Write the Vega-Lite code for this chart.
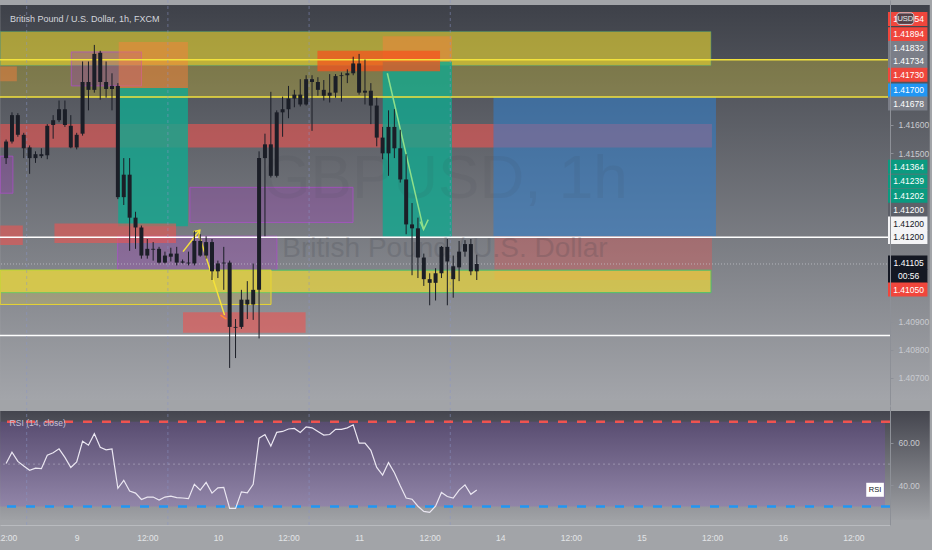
{
"$schema":"https://vega.github.io/schema/vega-lite/v6.json",
"width":890,"height":525,
"autosize":{"type":"none"},
"padding":{"left":0,"top":0,"right":42,"bottom":25},
"background":"#a2a4a8",
"config":{"view":{"stroke":null},"font":"Liberation Sans, sans-serif"},
"datasets":{
"candles":[
{"h":-12,"o":1.41482,"hi":1.41548,"lo":1.41461,"c":1.41541},
{"h":-11,"o":1.41541,"hi":1.41645,"lo":1.41534,"c":1.41635},
{"h":-10,"o":1.41635,"hi":1.41642,"lo":1.41558,"c":1.41565},
{"h":-9,"o":1.41565,"hi":1.41572,"lo":1.41482,"c":1.41517},
{"h":-8,"o":1.41520,"hi":1.41527,"lo":1.41426,"c":1.41482},
{"h":-7,"o":1.41482,"hi":1.41506,"lo":1.41465,"c":1.41496},
{"h":-6,"o":1.41496,"hi":1.41517,"lo":1.41482,"c":1.41489},
{"h":-5,"o":1.41492,"hi":1.41603,"lo":1.41478,"c":1.41597},
{"h":-4,"o":1.41600,"hi":1.41635,"lo":1.41551,"c":1.41617},
{"h":-3,"o":1.41617,"hi":1.41687,"lo":1.41610,"c":1.41656},
{"h":-2,"o":1.41656,"hi":1.41687,"lo":1.41593,"c":1.41600},
{"h":-1,"o":1.41597,"hi":1.41635,"lo":1.41517,"c":1.41520},
{"h":0,"o":1.41520,"hi":1.41572,"lo":1.41513,"c":1.41565},
{"h":1,"o":1.41569,"hi":1.41826,"lo":1.41562,"c":1.41753},
{"h":2,"o":1.41753,"hi":1.41826,"lo":1.41652,"c":1.41725},
{"h":3,"o":1.41725,"hi":1.41885,"lo":1.41715,"c":1.41853},
{"h":4,"o":1.41857,"hi":1.41864,"lo":1.41690,"c":1.41753},
{"h":5,"o":1.41753,"hi":1.41826,"lo":1.41697,"c":1.41728},
{"h":6,"o":1.41728,"hi":1.41784,"lo":1.41652,"c":1.41739},
{"h":7,"o":1.41739,"hi":1.41749,"lo":1.41336,"c":1.41343},
{"h":8,"o":1.41343,"hi":1.41482,"lo":1.41315,"c":1.41423},
{"h":9,"o":1.41423,"hi":1.41482,"lo":1.41152,"c":1.41270},
{"h":10,"o":1.41270,"hi":1.41291,"lo":1.41159,"c":1.41235},
{"h":11,"o":1.41235,"hi":1.41242,"lo":1.41124,"c":1.41135},
{"h":12,"o":1.41135,"hi":1.41194,"lo":1.41124,"c":1.41159},
{"h":13,"o":1.41159,"hi":1.41183,"lo":1.41117,"c":1.41156},
{"h":14,"o":1.41159,"hi":1.41166,"lo":1.41107,"c":1.41110},
{"h":15,"o":1.41110,"hi":1.41149,"lo":1.41107,"c":1.41135},
{"h":16,"o":1.41131,"hi":1.41163,"lo":1.41114,"c":1.41142},
{"h":17,"o":1.41142,"hi":1.41166,"lo":1.41100,"c":1.41110},
{"h":18,"o":1.41110,"hi":1.41121,"lo":1.41107,"c":1.41114},
{"h":19,"o":1.41110,"hi":1.41149,"lo":1.41100,"c":1.41107},
{"h":20,"o":1.41107,"hi":1.41222,"lo":1.41100,"c":1.41187},
{"h":21,"o":1.41187,"hi":1.41211,"lo":1.41131,"c":1.41135},
{"h":22,"o":1.41135,"hi":1.41204,"lo":1.41124,"c":1.41183},
{"h":23,"o":1.41183,"hi":1.41194,"lo":1.41048,"c":1.41079},
{"h":24,"o":1.41079,"hi":1.41117,"lo":1.41055,"c":1.41107},
{"h":25,"o":1.41107,"hi":1.41166,"lo":1.41013,"c":1.41110},
{"h":26,"o":1.41110,"hi":1.41117,"lo":1.40735,"c":1.40881},
{"h":27,"o":1.40881,"hi":1.40909,"lo":1.40770,"c":1.40878},
{"h":28,"o":1.40881,"hi":1.41013,"lo":1.40874,"c":1.40978},
{"h":29,"o":1.40978,"hi":1.41044,"lo":1.40909,"c":1.40961},
{"h":30,"o":1.40961,"hi":1.41107,"lo":1.40906,"c":1.41013},
{"h":31,"o":1.41013,"hi":1.41506,"lo":1.40840,"c":1.41482},
{"h":32,"o":1.41482,"hi":1.41569,"lo":1.41204,"c":1.41531},
{"h":33,"o":1.41531,"hi":1.41718,"lo":1.41413,"c":1.41419},
{"h":34,"o":1.41419,"hi":1.41652,"lo":1.41413,"c":1.41645},
{"h":35,"o":1.41645,"hi":1.41701,"lo":1.41558,"c":1.41656},
{"h":36,"o":1.41656,"hi":1.41739,"lo":1.41624,"c":1.41694},
{"h":37,"o":1.41694,"hi":1.41725,"lo":1.41663,"c":1.41708},
{"h":38,"o":1.41708,"hi":1.41763,"lo":1.41666,"c":1.41673},
{"h":39,"o":1.41673,"hi":1.41777,"lo":1.41669,"c":1.41763},
{"h":40,"o":1.41763,"hi":1.41777,"lo":1.41579,"c":1.41753},
{"h":41,"o":1.41753,"hi":1.41770,"lo":1.41704,"c":1.41725},
{"h":42,"o":1.41725,"hi":1.41760,"lo":1.41687,"c":1.41704},
{"h":43,"o":1.41704,"hi":1.41781,"lo":1.41680,"c":1.41715},
{"h":44,"o":1.41715,"hi":1.41781,"lo":1.41697,"c":1.41774},
{"h":45,"o":1.41774,"hi":1.41787,"lo":1.41683,"c":1.41777},
{"h":46,"o":1.41777,"hi":1.41798,"lo":1.41749,"c":1.41784},
{"h":47,"o":1.41784,"hi":1.41843,"lo":1.41777,"c":1.41819},
{"h":48,"o":1.41819,"hi":1.41853,"lo":1.41708,"c":1.41715},
{"h":49,"o":1.41715,"hi":1.41833,"lo":1.41673,"c":1.41722},
{"h":50,"o":1.41722,"hi":1.41749,"lo":1.41603,"c":1.41669},
{"h":51,"o":1.41669,"hi":1.41697,"lo":1.41524,"c":1.41555},
{"h":52,"o":1.41555,"hi":1.41593,"lo":1.41478,"c":1.41499},
{"h":53,"o":1.41499,"hi":1.41652,"lo":1.41419,"c":1.41593},
{"h":54,"o":1.41593,"hi":1.41656,"lo":1.41482,"c":1.41517},
{"h":55,"o":1.41517,"hi":1.41583,"lo":1.41395,"c":1.41406},
{"h":56,"o":1.41406,"hi":1.41496,"lo":1.41211,"c":1.41246},
{"h":57,"o":1.41246,"hi":1.41322,"lo":1.41065,"c":1.41232},
{"h":58,"o":1.41232,"hi":1.41270,"lo":1.41055,"c":1.41128},
{"h":59,"o":1.41128,"hi":1.41142,"lo":1.41027,"c":1.41051},
{"h":60,"o":1.41051,"hi":1.41072,"lo":1.40958,"c":1.41038},
{"h":61,"o":1.41038,"hi":1.41090,"lo":1.40975,"c":1.41072},
{"h":62,"o":1.41072,"hi":1.41169,"lo":1.41055,"c":1.41166},
{"h":63,"o":1.41166,"hi":1.41194,"lo":1.40958,"c":1.41114},
{"h":64,"o":1.41097,"hi":1.41135,"lo":1.40985,"c":1.41051},
{"h":65,"o":1.41093,"hi":1.41187,"lo":1.41044,"c":1.41149},
{"h":66,"o":1.41149,"hi":1.41190,"lo":1.41131,"c":1.41176},
{"h":67,"o":1.41176,"hi":1.41194,"lo":1.41065,"c":1.41079},
{"h":68,"o":1.41079,"hi":1.41138,"lo":1.41048,"c":1.41105}
],
"rsi":[
{"h":-12,"rsi":50.29},{"h":-11,"rsi":55.61},{"h":-10,"rsi":51.29},{"h":-9,"rsi":49.14},{"h":-8,"rsi":47.12},{"h":-7,"rsi":48.13},{"h":-6,"rsi":47.84},{"h":-5,"rsi":54.17},{"h":-4,"rsi":55.32},{"h":-3,"rsi":57.19},{"h":-2,"rsi":53.17},{"h":-1,"rsi":48.42},{"h":0,"rsi":51.01},
{"h":1,"rsi":60.79},{"h":2,"rsi":58.92},{"h":3,"rsi":64.39},{"h":4,"rsi":57.91},{"h":5,"rsi":56.76},{"h":6,"rsi":57.19},{"h":7,"rsi":38.63},{"h":8,"rsi":42.37},{"h":9,"rsi":37.34},{"h":10,"rsi":36.33},{"h":11,"rsi":33.31},{"h":12,"rsi":34.46},
{"h":13,"rsi":34.46},{"h":14,"rsi":33.02},{"h":15,"rsi":34.46},{"h":16,"rsi":34.89},{"h":17,"rsi":34.17},{"h":18,"rsi":34.03},{"h":19,"rsi":33.74},{"h":20,"rsi":40.50},{"h":21,"rsi":37.77},{"h":22,"rsi":41.37},{"h":23,"rsi":36.33},{"h":24,"rsi":38.78},
{"h":25,"rsi":39.06},{"h":26,"rsi":29.14},{"h":27,"rsi":29.14},{"h":28,"rsi":36.91},{"h":29,"rsi":36.5},{"h":30,"rsi":40.50},{"h":31,"rsi":62.23},{"h":32,"rsi":63.96},{"h":33,"rsi":58.49},{"h":34,"rsi":64.96},{"h":35,"rsi":65.40},{"h":36,"rsi":66.55},
{"h":37,"rsi":66.83},{"h":38,"rsi":64.96},{"h":39,"rsi":67.55},{"h":40,"rsi":67.12},{"h":41,"rsi":65.40},{"h":42,"rsi":63.67},{"h":43,"rsi":63.96},{"h":44,"rsi":66.40},{"h":45,"rsi":66.40},{"h":46,"rsi":67.12},{"h":47,"rsi":68.56},{"h":48,"rsi":59.93},
{"h":49,"rsi":59.93},{"h":50,"rsi":56.47},{"h":51,"rsi":48.42},{"h":52,"rsi":44.82},{"h":53,"rsi":50.72},{"h":54,"rsi":45.97},{"h":55,"rsi":39.78},{"h":56,"rsi":34.03},{"h":57,"rsi":33.45},{"h":58,"rsi":30.14},{"h":59,"rsi":27.70},{"h":60,"rsi":27.27},
{"h":61,"rsi":30.14},{"h":62,"rsi":36.62},{"h":63,"rsi":34.75},{"h":64,"rsi":34.03},{"h":65,"rsi":37.77},{"h":66,"rsi":40.22},{"h":67,"rsi":35.76},{"h":68,"rsi":37.77}
],
"redBand":[{"h1":-13,"h2":107.98,"p1":1.41603,"p2":1.41520}],
"olive":[{"h1":-13,"h2":140,"p1":1.41832,"p2":1.41700}],
"yellowTop":[{"h1":-13,"h2":107.82,"p1":1.41933,"p2":1.41812}],
"teal":[{"h1":7.06,"h2":18.91,"p1":1.41732,"p2":1.41239},{"h1":52.02,"h2":63.78,"p1":1.41826,"p2":1.41202}],
"purple":[{"h1":-0.92,"h2":11.01,"p1":1.41860,"p2":1.41739},{"h1":-13,"h2":-10.84,"p1":1.41489,"p2":1.41357},{"h1":19.24,"h2":46.97,"p1":1.41378,"p2":1.41253},{"h1":6.97,"h2":34.03,"p1":1.41204,"p2":1.41083}],
"orange":[{"h1":7.14,"h2":18.91,"p1":1.41895,"p2":1.41732},{"h1":-13,"h2":-10.17,"p1":1.41808,"p2":1.41756},{"h1":52.02,"h2":63.78,"p1":1.41916,"p2":1.41826}],
"redOrange":[{"h1":40.92,"h2":61.76,"p1":1.41864,"p2":1.41791}],
"red":[{"h1":-13,"h2":-9.16,"p1":1.41242,"p2":1.41173},{"h1":-3.78,"h2":16.89,"p1":1.41249,"p2":1.41180},{"h1":18.07,"h2":38.91,"p1":1.40933,"p2":1.40860}],
"redSoft":[{"h1":71.01,"h2":107.98,"p1":1.41204,"p2":1.41048}],
"blue":[{"h1":70.84,"h2":108.66,"p1":1.41700,"p2":1.41204}],
"yellowLow":[{"h1":-13,"h2":107.82,"p1":1.41083,"p2":1.41003}],
"yellowOutline":[{"h1":-13,"h2":33.03,"p1":1.41083,"p2":1.40961}],
"yellowLines":[{"p":1.41832},{"p":1.41700}],
"whiteLines":[{"p":1.41200},{"p":1.40850}],
"yellowArrow":[
{"seg":"a","i":0,"h":18.07,"p":1.41149},{"seg":"a","i":1,"h":20.92,"p":1.41225},
{"seg":"b","i":0,"h":19.83,"p":1.41220},{"seg":"b","i":1,"h":20.92,"p":1.41225},{"seg":"b","i":2,"h":20.76,"p":1.41197},
{"seg":"c","i":0,"h":20.92,"p":1.41200},{"seg":"c","i":1,"h":25.13,"p":1.40923}],
"orangeArrow":[{"seg":"a","i":0,"h":24.45,"p":1.40923},{"seg":"a","i":1,"h":25.46,"p":1.40909}],
"greenArrow":[
{"seg":"a","i":0,"h":52.8,"p":1.41784},{"seg":"a","i":1,"h":58.96,"p":1.41228},
{"seg":"b","i":0,"h":58.4,"p":1.41256},{"seg":"b","i":1,"h":58.96,"p":1.41228},{"seg":"b","i":2,"h":59.75,"p":1.41263}],
"sessions":[{"h":-8.5},{"h":15.5},{"h":39.5},{"h":63.5}],
"priceLabels":[
{"label":"1.41954","at":1.41977,"kind":"red"},
{"label":"1.41894","at":1.41923,"kind":"red"},
{"label":"1.41832","at":1.41874,"kind":"grey"},
{"label":"1.41734","at":1.41826,"kind":"grey"},
{"label":"1.41730","at":1.41779,"kind":"red"},
{"label":"1.41700","at":1.41723,"kind":"blue"},
{"label":"1.41678","at":1.41676,"kind":"grey"},
{"label":"1.41364","at":1.41451,"kind":"teal"},
{"label":"1.41239","at":1.41399,"kind":"teal"},
{"label":"1.41202","at":1.41347,"kind":"teal"},
{"label":"1.41200","at":1.41298,"kind":"dark"},
{"label":"1.41200","at":1.41249,"kind":"white"},
{"label":"1.41200","at":1.41201,"kind":"white"},
{"label":"1.41105","at":1.41110,"kind":"black"},
{"label":"00:56","at":1.41062,"kind":"black"},
{"label":"1.41050","at":1.41014,"kind":"red"}]
},
"layer":[
{"layer":[
{"data":{"values":[{}]},"mark":{"type":"rect","clip":false,"fill":{"x1":0,"y1":0,"x2":0,"y2":1,"gradient":"linear","stops":[{"offset":0,"color":"#3e4149"},{"offset":1,"color":"#a3a5aa"}]}},
 "encoding":{"x":{"datum":-13,"type":"quantitative"},"x2":{"datum":145},"y":{"datum":1.420271,"type":"quantitative"},"y2":{"datum":1.406208}}},
{"data":{"name":"redBand"},"mark":{"type":"rect","clip":true,"fill":"#ef5350","opacity":0.6},"encoding":{"x":{"field":"h1","type":"quantitative"},"x2":{"field":"h2"},"y":{"field":"p1","type":"quantitative"},"y2":{"field":"p2"}}},
{"data":{"name":"olive"},"mark":{"type":"rect","clip":true,"fill":"#e8d530","opacity":0.3},"encoding":{"x":{"field":"h1","type":"quantitative"},"x2":{"field":"h2"},"y":{"field":"p1","type":"quantitative"},"y2":{"field":"p2"}}},
{"data":{"name":"yellowTop"},"mark":{"type":"rect","clip":true,"fill":"#e8d530","opacity":0.62,"stroke":"#2fbf8f","strokeWidth":1,"strokeOpacity":0.5},"encoding":{"x":{"field":"h1","type":"quantitative"},"x2":{"field":"h2"},"y":{"field":"p1","type":"quantitative"},"y2":{"field":"p2"}}},
{"data":{"name":"teal"},"mark":{"type":"rect","clip":true,"fill":"#12a88f","opacity":0.8},"encoding":{"x":{"field":"h1","type":"quantitative"},"x2":{"field":"h2"},"y":{"field":"p1","type":"quantitative"},"y2":{"field":"p2"}}},
{"data":{"name":"purple"},"mark":{"type":"rect","clip":true,"fill":"#a23cc0","fillOpacity":0.3,"stroke":"#b04ad0","strokeOpacity":0.7,"strokeWidth":1},"encoding":{"x":{"field":"h1","type":"quantitative"},"x2":{"field":"h2"},"y":{"field":"p1","type":"quantitative"},"y2":{"field":"p2"}}},
{"data":{"name":"orange"},"mark":{"type":"rect","clip":true,"fill":"#ff7f3a","opacity":0.45},"encoding":{"x":{"field":"h1","type":"quantitative"},"x2":{"field":"h2"},"y":{"field":"p1","type":"quantitative"},"y2":{"field":"p2"}}},
{"data":{"name":"redOrange"},"mark":{"type":"rect","clip":true,"fill":"#f4541e","opacity":0.75},"encoding":{"x":{"field":"h1","type":"quantitative"},"x2":{"field":"h2"},"y":{"field":"p1","type":"quantitative"},"y2":{"field":"p2"}}},
{"data":{"name":"red"},"mark":{"type":"rect","clip":true,"fill":"#ef5350","opacity":0.6},"encoding":{"x":{"field":"h1","type":"quantitative"},"x2":{"field":"h2"},"y":{"field":"p1","type":"quantitative"},"y2":{"field":"p2"}}},
{"data":{"name":"redSoft"},"mark":{"type":"rect","clip":true,"fill":"#ef5350","opacity":0.35},"encoding":{"x":{"field":"h1","type":"quantitative"},"x2":{"field":"h2"},"y":{"field":"p1","type":"quantitative"},"y2":{"field":"p2"}}},
{"data":{"name":"blue"},"mark":{"type":"rect","clip":true,"fill":"#2f7fd0","opacity":0.55},"encoding":{"x":{"field":"h1","type":"quantitative"},"x2":{"field":"h2"},"y":{"field":"p1","type":"quantitative"},"y2":{"field":"p2"}}},
{"data":{"name":"yellowLow"},"mark":{"type":"rect","clip":true,"fill":"#ecd93a","fillOpacity":0.7,"stroke":"#4cc26a","strokeWidth":1},"encoding":{"x":{"field":"h1","type":"quantitative"},"x2":{"field":"h2"},"y":{"field":"p1","type":"quantitative"},"y2":{"field":"p2"}}},
{"data":{"name":"yellowOutline"},"mark":{"type":"rect","clip":true,"fill":"#ecd93a","fillOpacity":0.22,"stroke":"#e8d530","strokeWidth":1},"encoding":{"x":{"field":"h1","type":"quantitative"},"x2":{"field":"h2"},"y":{"field":"p1","type":"quantitative"},"y2":{"field":"p2"}}},
{"data":{"name":"yellowLines"},"mark":{"type":"rule","color":"#f2e23c","strokeWidth":1.5},"encoding":{"y":{"field":"p","type":"quantitative"}}},
{"data":{"name":"whiteLines"},"mark":{"type":"rule","color":"#ffffff","strokeWidth":1.5},"encoding":{"y":{"field":"p","type":"quantitative"}}},
{"data":{"values":[{}]},"mark":{"type":"rule","color":"#c9cbd0","strokeDash":[1,2],"opacity":0.7},"encoding":{"y":{"datum":1.41105,"type":"quantitative"}}},
{"data":{"values":[{"t":"GBPUSD, 1h"}]},"mark":{"type":"text","fontSize":62,"fill":"#3a3d47","opacity":0.08,"align":"center","baseline":"middle"},"encoding":{"x":{"datum":62.6,"type":"quantitative"},"y":{"datum":1.41409,"type":"quantitative"},"text":{"field":"t"}}},
{"data":{"values":[{"t":"British Pound / U.S. Dollar"}]},"mark":{"type":"text","fontSize":28,"fill":"#3a3d47","opacity":0.18,"align":"center","baseline":"middle"},"encoding":{"x":{"datum":62.6,"type":"quantitative"},"y":{"datum":1.41159,"type":"quantitative"},"text":{"field":"t"}}},
{"data":{"name":"yellowArrow"},"mark":{"type":"line","clip":true,"color":"#f5e23a","strokeWidth":1.5},"encoding":{"x":{"field":"h","type":"quantitative"},"y":{"field":"p","type":"quantitative"},"detail":{"field":"seg"},"order":{"field":"i"}}},
{"data":{"name":"orangeArrow"},"mark":{"type":"line","clip":true,"color":"#ff8a30","strokeWidth":1.5},"encoding":{"x":{"field":"h","type":"quantitative"},"y":{"field":"p","type":"quantitative"},"detail":{"field":"seg"},"order":{"field":"i"}}},
{"data":{"name":"greenArrow"},"mark":{"type":"line","clip":true,"color":"#8fe08a","strokeWidth":1.5},"encoding":{"x":{"field":"h","type":"quantitative"},"y":{"field":"p","type":"quantitative"},"detail":{"field":"seg"},"order":{"field":"i"}}},
{"data":{"name":"candles"},"mark":{"type":"rule","color":"#1b1e27","strokeWidth":1},
 "encoding":{
  "x":{"field":"h","type":"quantitative","scale":{"domain":[-12.185,137.39],"nice":false,"zero":false},
   "axis":{"orient":"bottom","values":[-12,0,12,24,36,48,60,72,84,96,108,120,132],"labelExpr":"datum.value == 0 ? '9' : datum.value == 24 ? '10' : datum.value == 48 ? '11' : datum.value == 72 ? '14' : datum.value == 96 ? '15' : datum.value == 120 ? '16' : '12:00'","title":null,"grid":false,"ticks":false,"labelFlush":false,"labelOverlap":false,"labelBound":false,"labelColor":"#e3e4e7","labelFontSize":8.5,"labelPadding":8,"domainColor":"#b9bbbf","zindex":1}},
  "y":{"field":"lo","type":"quantitative","scale":{"domain":[1.406208,1.420271],"range":[405,0],"nice":false,"zero":false},
   "axis":{"orient":"right","values":[1.416,1.415,1.409,1.408,1.407],"format":".5f","title":null,"grid":false,"labelColor":"#c9cbd0","labelFontSize":8.5,"labelPadding":5,"tickSize":3,"tickColor":"#8d9097","domainColor":"#8d9097","zindex":1}},
  "y2":{"field":"hi"}}},
{"data":{"name":"candles"},"mark":{"type":"bar","color":"#1b1e27","size":4},"encoding":{"x":{"field":"h","type":"quantitative"},"y":{"field":"o","type":"quantitative"},"y2":{"field":"c"}}},
{"data":{"values":[{"t":"British Pound / U.S. Dollar, 1h, FXCM"}]},"mark":{"type":"text","fontSize":9,"fill":"#d4d6dc","align":"left","baseline":"middle","clip":false},"encoding":{"x":{"datum":-11.34,"type":"quantitative"},"y":{"datum":1.41978,"type":"quantitative"},"text":{"field":"t"}}},
{"data":{"name":"priceLabels"},"mark":{"type":"bar","size":14,"clip":false},"encoding":{"x":{"datum":137.9,"type":"quantitative"},"x2":{"datum":144.6},"y":{"field":"at","type":"quantitative"},"fill":{"field":"kind","type":"nominal","legend":null,"scale":{"domain":["red","grey","blue","teal","dark","white","black"],"range":["#f0463c","#7b7e88","#2196f3","#0b9a80","#5d6069","#f4f4f6","#141823"]}}}},
{"data":{"name":"priceLabels"},"mark":{"type":"text","fontSize":8.5,"align":"center","baseline":"middle","clip":false},"encoding":{"x":{"datum":141.4,"type":"quantitative"},"y":{"field":"at","type":"quantitative"},"text":{"field":"label"},"color":{"condition":{"test":"datum.kind === 'white'","value":"#131722"},"value":"#ffffff"}}},
{"data":{"values":[{}]},"mark":{"type":"rect","clip":false,"fill":"#3a3d46","fillOpacity":0.85,"stroke":"#d1d4dc","strokeWidth":1,"cornerRadius":3},"encoding":{"x":{"datum":139.4,"type":"quantitative"},"x2":{"datum":142.3},"y":{"datum":1.41999,"type":"quantitative"},"y2":{"datum":1.41958}}},
{"data":{"values":[{"t":"USD"}]},"mark":{"type":"text","fontSize":7.5,"fill":"#e8e9ec","align":"center","baseline":"middle","clip":false},"encoding":{"x":{"datum":140.85,"type":"quantitative"},"y":{"datum":1.41978,"type":"quantitative"},"text":{"field":"t"}}}
]},
{"layer":[
{"data":{"values":[{}]},"mark":{"type":"rect","clip":false,"fill":{"x1":0,"y1":0,"x2":0,"y2":1,"gradient":"linear","stops":[{"offset":0,"color":"#44454e"},{"offset":1,"color":"#a0a2a6"}]}},
 "encoding":{"x":{"datum":-13,"type":"quantitative"},"x2":{"datum":145},"y":{"datum":75.05,"type":"quantitative"},"y2":{"datum":23.65}}},
{"data":{"values":[{}]},"mark":{"type":"rect","clip":true,"fill":{"x1":0,"y1":0,"x2":0,"y2":1,"gradient":"linear","stops":[{"offset":0,"color":"#594d71"},{"offset":1,"color":"#9185a8"}]}},
 "encoding":{"x":{"datum":-13,"type":"quantitative"},"x2":{"datum":137.39},"y":{"datum":70,"type":"quantitative"},"y2":{"datum":30}}},
{"data":{"name":"sessions"},"mark":{"type":"rule","color":"#8a96c8","opacity":0.5,"strokeDash":[3,3],"strokeWidth":1},"encoding":{"x":{"field":"h","type":"quantitative"}}},
{"data":{"values":[{}]},"mark":{"type":"rule","color":"#a9a4bb","opacity":0.7,"strokeDash":[2,3],"strokeWidth":1},"encoding":{"y":{"datum":50,"type":"quantitative"}}},
{"data":{"values":[{}]},"mark":{"type":"rule","color":"#ef5350","strokeDash":[9,10],"strokeWidth":2.5},"encoding":{"y":{"datum":70,"type":"quantitative"}}},
{"data":{"values":[{}]},"mark":{"type":"rule","color":"#2196f3","strokeDash":[9,10],"strokeWidth":2.5},"encoding":{"y":{"datum":30,"type":"quantitative"}}},
{"data":{"name":"rsi"},"mark":{"type":"line","color":"#ebe7f2","strokeWidth":1.2},
 "encoding":{"x":{"field":"h","type":"quantitative"},
  "y":{"field":"rsi","type":"quantitative","scale":{"domain":[23.65,75.05],"range":[525,406],"nice":false,"zero":false},
   "axis":{"orient":"right","values":[40,60],"format":".2f","title":null,"grid":false,"labelColor":"#c9cbd0","labelFontSize":8.5,"labelPadding":5,"tickSize":3,"tickColor":"#8d9097","domainColor":"#8d9097","zindex":1}}}},
{"data":{"values":[{"t":"RSI (14, close)"}]},"mark":{"type":"text","fontSize":8.5,"fill":"#c6c2d6","align":"left","baseline":"middle"},"encoding":{"x":{"datum":-11.4,"type":"quantitative"},"y":{"datum":69.2,"type":"quantitative"},"text":{"field":"t"}}},
{"data":{"values":[{}]},"mark":{"type":"bar","size":14,"fill":"#ffffff","clip":false},"encoding":{"x":{"datum":134.2,"type":"quantitative"},"x2":{"datum":137.2},"y":{"datum":37.9,"type":"quantitative"}}},
{"data":{"values":[{"t":"RSI"}]},"mark":{"type":"text","fontSize":7.5,"fill":"#131722","align":"center","baseline":"middle","clip":false},"encoding":{"x":{"datum":135.7,"type":"quantitative"},"y":{"datum":37.9,"type":"quantitative"},"text":{"field":"t"}}}
]}
],
"resolve":{"scale":{"y":"independent"},"axis":{"y":"independent"}}
}
